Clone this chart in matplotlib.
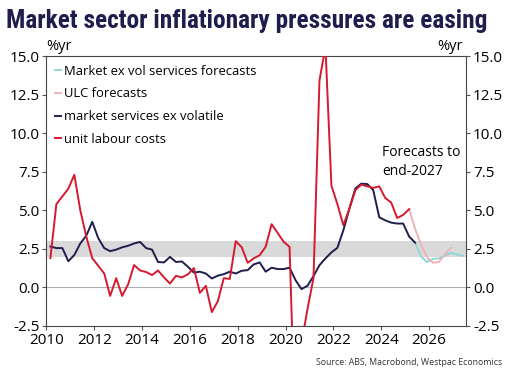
import pandas as pd
import matplotlib
matplotlib.use('Agg')
import matplotlib.pyplot as plt

plt.rcParams['font.family'] = ['Open Sans', 'DejaVu Sans']

# Quarterly dates, plotted at end month of each quarter
def qdates(start, end):
    p = pd.period_range(start, end, freq='Q')
    return [q.year + (q.quarter * 3 - 1) / 12 for q in p]

# market services ex volatile, 2010Q1 - 2025Q2 (%yr)
mkt_ex_vol = [2.65, 2.55, 2.55, 1.7,
              2.1, 2.85, 3.35, 4.25,
              3.2, 2.55, 2.35, 2.45,
              2.6, 2.7, 2.85, 2.95,
              2.55, 2.45, 1.65, 1.62,
              1.98, 1.65, 1.68, 1.34,
              0.96, 1.02, 0.9, 0.58,
              0.76, 0.86, 1.02, 0.9,
              1.08, 1.12, 1.49, 1.62,
              1.02, 1.28, 1.19, 1.19,
              1.28, 0.47, -0.11, 0.11,
              0.73, 1.44, 1.88, 2.27,
              2.57, 3.71, 5.1, 6.41,
              6.73, 6.7, 6.3, 4.55,
              4.35, 4.2, 4.14, 4.14,
              3.3, 2.9]

# unit labour costs, 2010Q1 - 2025Q1 (%yr)
ulc = [1.9, 5.4, 5.9, 6.4,
       7.3, 5.0, 3.3, 1.9,
       1.4, 0.9, -0.55, 0.6,
       -0.55, 0.2, 1.45, 1.1,
       1.0, 0.8, 1.1, 0.65,
       0.25, 0.75, 0.65, 0.85,
       1.25, -0.35, 0.1, -1.6,
       -0.9, 0.6, 0.55, 3.0,
       2.6, 1.6, 1.88, 2.09,
       2.63, 4.1, 3.54, 2.96,
       2.63, -10.0, -3.6, -1.4,
       0.6, 13.4, 15.6, 6.6,
       5.4, 4.03, 5.1, 6.3,
       6.67, 6.55, 6.45, 6.55,
       5.8, 5.5, 4.5, 4.7,
       5.07]

# forecasts
mkt_fc = [2.9, 2.0, 1.65, 1.85, 1.88, 2.05, 2.25, 2.13, 2.05]   # 2025Q2 - 2027Q2
ulc_fc = [5.07, 3.8, 2.75, 1.95, 1.6, 1.66, 2.15, 2.57]        # 2025Q1 - 2026Q4

x_mkt = qdates('2010Q1', '2025Q2')
x_ulc = qdates('2010Q1', '2025Q1')
x_mkt_fc = qdates('2025Q2', '2027Q2')
x_ulc_fc = qdates('2025Q1', '2026Q4')

navy = '#1f1d4d'
red = '#d5192f'
teal = '#8fd6d6'
pink = '#efb3b7'

fig = plt.figure(figsize=(5.1, 3.76), dpi=100)
ax = fig.add_axes([0.091, 0.133, 0.823, 0.718])

ax.axhspan(2, 3, color='#d9d9d9', lw=0, zorder=0)
ax.axhline(0, color='#b0b0b0', lw=0.8, zorder=1)

ax.plot(x_mkt_fc, mkt_fc, color=teal, lw=1.4, label='Market ex vol services forecasts', zorder=3)
ax.plot(x_ulc_fc, ulc_fc, color=pink, lw=1.4, label='ULC forecasts', zorder=3)
ax.plot(x_mkt, mkt_ex_vol, color=navy, lw=1.4, label='market services ex volatile', zorder=4)
ax.plot(x_ulc, ulc, color=red, lw=1.4, label='unit labour costs', zorder=4)

ax.set_xlim(2010, 2027.55)
ax.set_ylim(-2.5, 15)
ax.set_xticks(range(2010, 2027, 2))
ax.set_yticks([-2.5, 0, 2.5, 5, 7.5, 10, 12.5, 15])
ax.set_yticklabels([f'{v:.1f}' for v in [-2.5, 0, 2.5, 5, 7.5, 10, 12.5, 15]])
ax.tick_params(axis='both', labelsize=11, length=3, width=0.8, color='#555555', pad=2)
ax.tick_params(axis='y', right=True, labelright=True)
for s in ax.spines.values():
    s.set_color('#444444')
    s.set_linewidth(0.8)

ax.legend(loc='upper left', bbox_to_anchor=(0, 1), frameon=False, fontsize=9.4,
          handlelength=0.5, handletextpad=0.2, labelspacing=0.75, borderaxespad=0.25)

ax.text(2024.05, 9.2, 'Forecasts to\nend-2027', fontsize=10, va='top', ha='left', linespacing=1.35)

fig.text(0.091, 0.856, '%yr', fontsize=10.5, ha='left', va='bottom')
fig.text(0.908, 0.856, '%yr', fontsize=10.5, ha='right', va='bottom')

fig.text(0.012, 0.943, 'Market sector inflationary pressures are easing',
         family=['Liberation Sans Narrow', 'Roboto Condensed', 'DejaVu Sans'],
         fontweight='bold', fontsize=18.3, color=navy, ha='left', va='center')

fig.text(0.985, 0.035, 'Source: ABS, Macrobond, Westpac Economics', fontsize=6.3,
         color='#333333', ha='right', va='center')

fig.savefig('out.png', dpi=100)
